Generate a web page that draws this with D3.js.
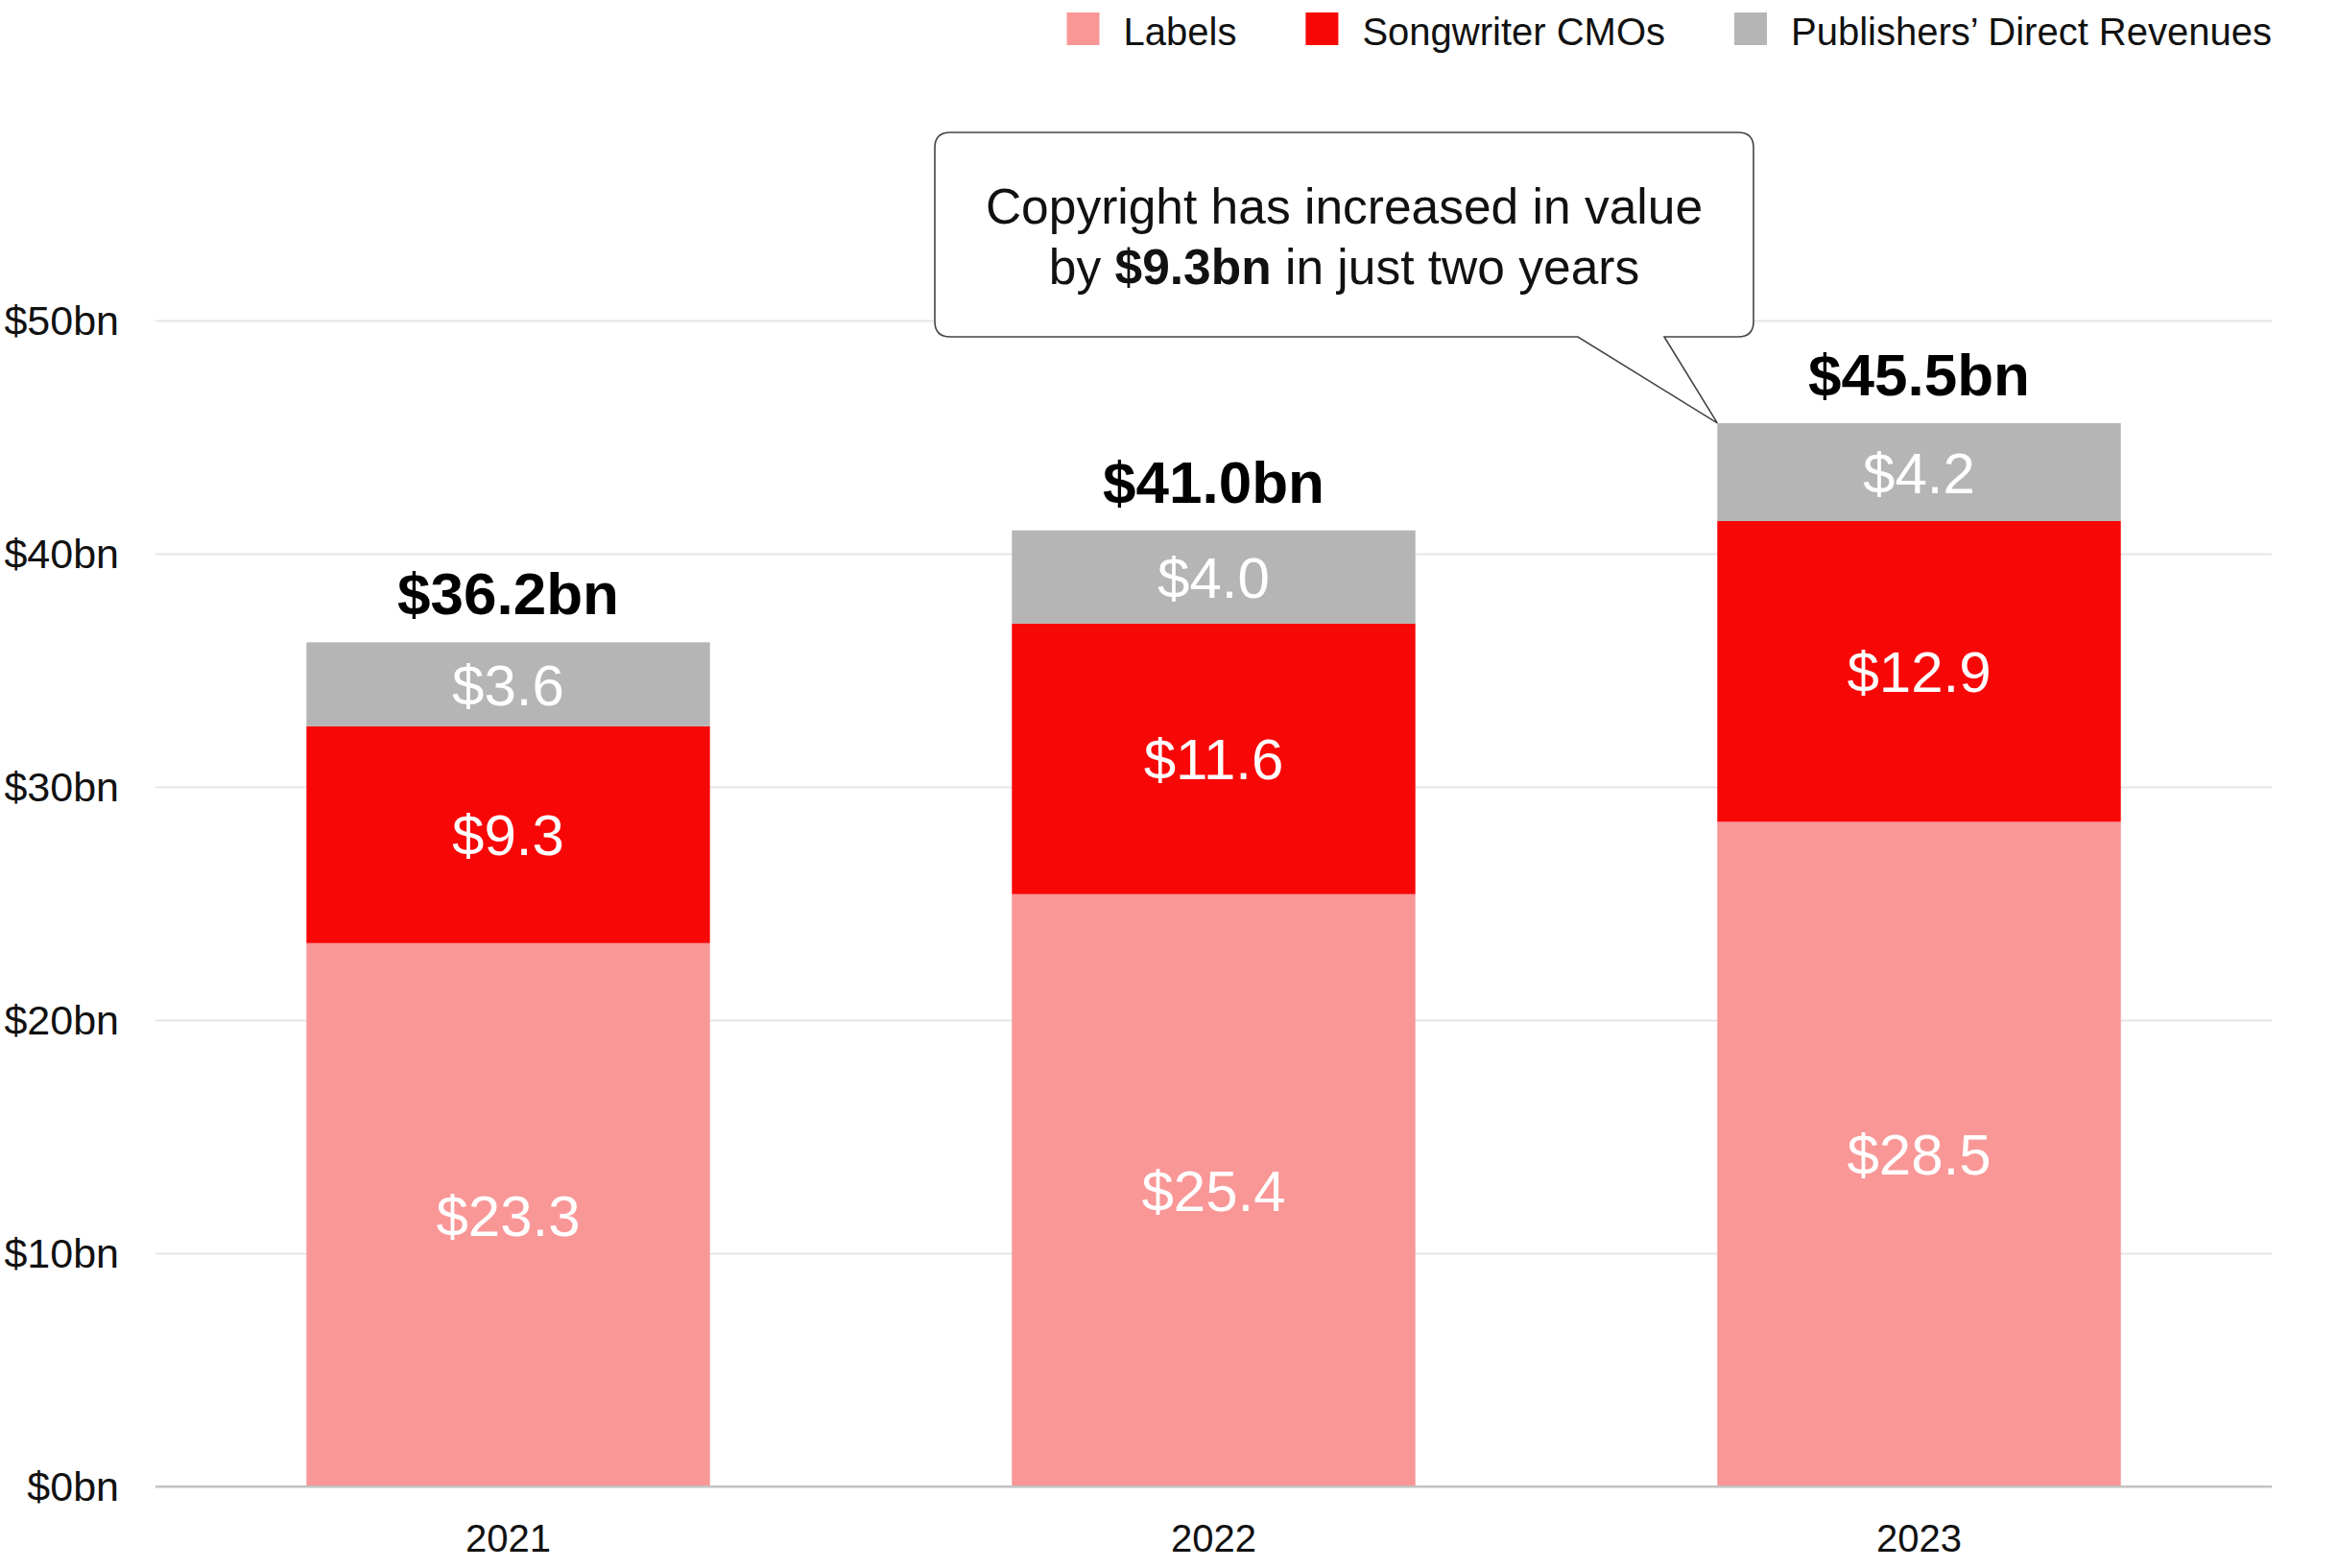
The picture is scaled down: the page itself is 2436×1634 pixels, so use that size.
<!DOCTYPE html>
<html>
<head>
<meta charset="utf-8">
<script src="https://cdn.jsdelivr.net/npm/d3@7"></script>
<style>
  html, body { margin: 0; padding: 0; background: #ffffff; }
  svg { display: block; font-family: "Liberation Sans", Arial, Helvetica, sans-serif; }
</style>
</head>
<body>
<svg id="chart" width="2436" height="1634"></svg>
<script>
// ---- data ----
const years = ["2021", "2022", "2023"];
const seriesNames = ["Labels", "Songwriter CMOs", "Publishers\u2019 Direct Revenues"];
const labelsValues = [23.3, 25.4, 28.5];
const cmoValues = [9.3, 11.6, 12.9];
const publishersValues = [3.6, 4.0, 4.2];
const totals = [36.2, 41.0, 45.5];
const yTicks = [0, 10, 20, 30, 40, 50];
const seriesColors = ["#f99797", "#f80707", "#b5b5b5"];
const calloutLine1 = "Copyright has increased in value";
const calloutLine2 = ["by ", "$9.3bn", " in just two years"];

// ---- layout ----
const W = 2436, H = 1634;
const plotLeft = 162, plotRight = 2367, plotBottom = 1549, plotTop = 334;

const svg = d3.select("#chart");
svg.append("rect").attr("width", W).attr("height", H).attr("fill", "#fff");

const x = d3.scaleBand().domain(years).range([plotLeft, plotRight]).paddingInner(0.428).paddingOuter(0.214);
const y = d3.scaleLinear().domain([0, 50]).range([plotBottom, plotTop]);
const color = d3.scaleOrdinal().domain(seriesNames).range(seriesColors);

// table for stacking
const table = years.map((yr, i) => ({
  year: yr,
  [seriesNames[0]]: labelsValues[i],
  [seriesNames[1]]: cmoValues[i],
  [seriesNames[2]]: publishersValues[i]
}));
const stacked = d3.stack().keys(seriesNames)(table);

// ---- y axis / gridlines ----
const yAxis = d3.axisLeft(y).tickValues(yTicks).tickSize(-(plotRight - plotLeft)).tickPadding(38)
  .tickFormat(d => "$" + d + "bn");
const gy = svg.append("g").attr("transform", `translate(${plotLeft},0)`).call(yAxis);
gy.select(".domain").remove();
gy.selectAll(".tick line").attr("stroke", d => d === 0 ? "#c2c2c2" : "#e6e6e6").attr("stroke-width", 2);
gy.selectAll(".tick text").attr("font-size", 43).attr("fill", "#111").attr("dy", "0.34em")
  .style("font-family", "'Liberation Sans', Arial, sans-serif");

// ---- bars ----
const layers = svg.append("g").selectAll("g").data(stacked).join("g").attr("fill", d => color(d.key));
layers.selectAll("rect").data(d => d).join("rect")
  .attr("x", d => x(d.data.year))
  .attr("width", x.bandwidth())
  .attr("y", d => y(d[1]))
  .attr("height", d => y(d[0]) - y(d[1]));

// re-draw baseline above bars
svg.append("line").attr("x1", plotLeft).attr("x2", plotRight).attr("y1", y(0)).attr("y2", y(0))
  .attr("stroke", "#c2c2c2").attr("stroke-width", 2);

// segment labels
const segLabels = svg.append("g");
stacked.forEach(layer => {
  segLabels.append("g").selectAll("text").data(layer).join("text")
    .attr("x", d => x(d.data.year) + x.bandwidth() / 2)
    .attr("y", d => (y(d[0]) + y(d[1])) / 2)
    .attr("dy", "0.36em")
    .attr("text-anchor", "middle")
    .attr("font-size", 60)
    .attr("fill", "#fff")
    .text(d => "$" + (d[1] - d[0]).toFixed(1));
});

// totals
svg.append("g").selectAll("text").data(years).join("text")
  .attr("x", d => x(d) + x.bandwidth() / 2)
  .attr("y", (d, i) => y(labelsValues[i] + cmoValues[i] + publishersValues[i]) - 29)
  .attr("text-anchor", "middle")
  .attr("font-size", 62)
  .attr("font-weight", "bold")
  .attr("fill", "#000")
  .text((d, i) => "$" + totals[i].toFixed(1) + "bn");

// ---- x axis labels ----
const xAxis = d3.axisBottom(x).tickSize(0).tickPadding(0);
const gx = svg.append("g").attr("transform", `translate(0,${plotBottom})`).call(xAxis);
gx.select(".domain").remove();
gx.selectAll(".tick text").attr("font-size", 40).attr("fill", "#111").attr("y", 68).attr("dy", 0)
  .style("font-family", "'Liberation Sans', Arial, sans-serif");

// ---- legend (right aligned) ----
const legend = svg.append("g");
const items = legend.selectAll("g").data(seriesNames).join("g");
items.append("rect").attr("width", 34).attr("height", 34).attr("y", 13).attr("fill", d => color(d));
items.append("text").attr("x", 59).attr("y", 47).attr("font-size", 40).attr("fill", "#111").text(d => d);
const widths = [];
items.each(function () { widths.push(59 + this.querySelector("text").getComputedTextLength()); });
const gap = 72;
const totalW = d3.sum(widths) + gap * (widths.length - 1);
let legX = plotRight - totalW;
items.each(function (d, i) {
  d3.select(this).attr("transform", `translate(${legX},0)`);
  legX += widths[i] + gap;
});

// ---- callout ----
const bx0 = 974, bx1 = 1827, by0 = 138, by1 = 351, r = 16;
const lastIdx = years.length - 1;
const tipX = x(years[lastIdx]);
const tipY = y(labelsValues[lastIdx] + cmoValues[lastIdx] + publishersValues[lastIdx]);
const pb1 = 1644, pb2 = 1734;
const pathD = `M${bx0 + r},${by0} H${bx1 - r} Q${bx1},${by0} ${bx1},${by0 + r} V${by1 - r} Q${bx1},${by1} ${bx1 - r},${by1} ` +
  `H${pb2} L${tipX},${tipY} L${pb1},${by1} H${bx0 + r} Q${bx0},${by1} ${bx0},${by1 - r} V${by0 + r} Q${bx0},${by0} ${bx0 + r},${by0} Z`;
svg.append("path").attr("d", pathD).attr("fill", "#fff").attr("stroke", "#444").attr("stroke-width", 1.6);

const cxm = (bx0 + bx1) / 2;
svg.append("text").attr("x", cxm).attr("y", 233).attr("text-anchor", "middle").attr("font-size", 51.5)
  .attr("fill", "#111").text(calloutLine1);
const t2 = svg.append("text").attr("x", cxm).attr("y", 296).attr("text-anchor", "middle").attr("font-size", 51.5).attr("fill", "#111");
calloutLine2.forEach((s, i) => {
  t2.append("tspan").attr("font-weight", i === 1 ? "bold" : "normal").text(s);
});
</script>
</body>
</html>
